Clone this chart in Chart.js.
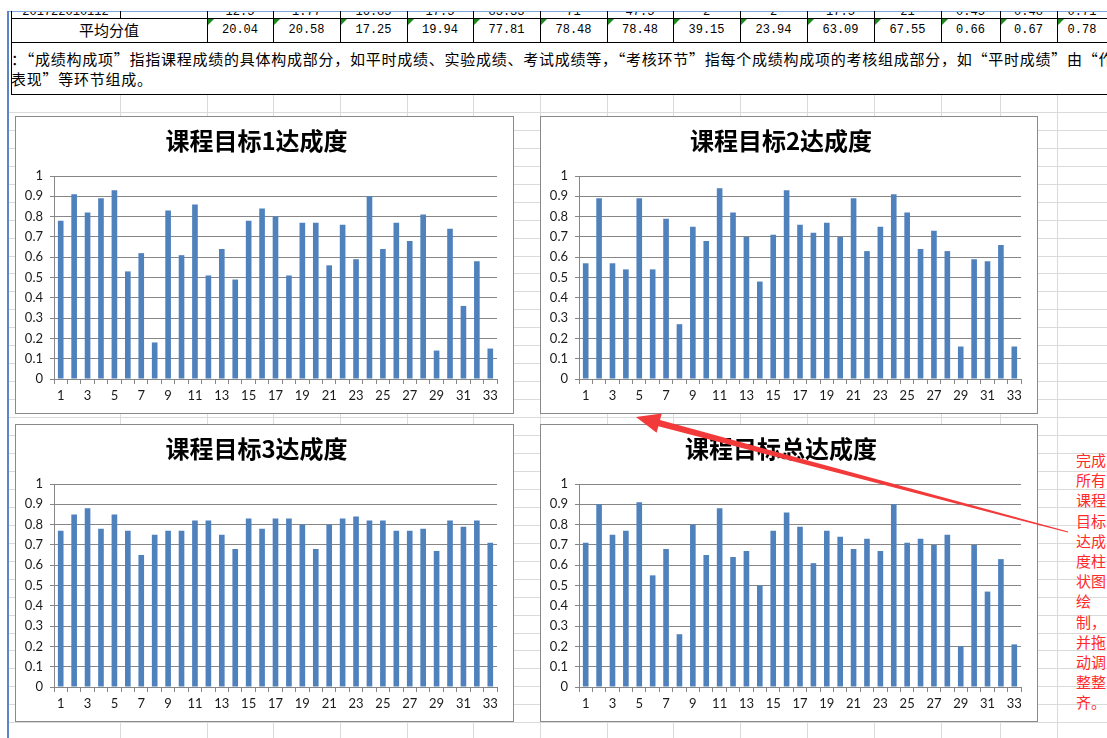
<!DOCTYPE html>
<html>
<head>
<meta charset="utf-8">
<script src="https://cdn.jsdelivr.net/npm/chart.js@4.4.1/dist/chart.umd.min.js"></script>
<style>
html, body { margin: 0; padding: 0; background: #fff; }
body { width: 1107px; height: 738px; position: relative; overflow: hidden; font-family: "Noto Sans CJK SC", sans-serif; }
.gl { position: absolute; background: #dadada; }
.bl { position: absolute; background: #000; }
.num { position: absolute; top: 21px; text-align: center; font-family: "Liberation Mono", monospace; font-size: 12px; line-height: 18px; color: #000; }
.tri { position: absolute; top: 19px; width: 0; height: 0; border-top: 6px solid #1b8a1b; border-right: 6px solid transparent; }
.box { position: absolute; background: #fff; border: 1px solid #8a8a8a; box-sizing: border-box; }
.box canvas { position: absolute; left: 0; top: 0; }
#note { position: absolute; left: 11px; top: 49px; font-size: 15px; line-height: 20px; letter-spacing: 0.75px; white-space: nowrap; color: #000; }
#red { position: absolute; left: 1076px; top: 450px; width: 31px; font-size: 15px; line-height: 20.2px; color: #ff2a2a; }
</style>
</head>
<body>

<div id="sheet"></div>

<div class="box" style="left:15px;top:116px;width:499px;height:298px;"><canvas id="c1" width="497" height="296"></canvas></div>
<div class="box" style="left:540px;top:116px;width:498px;height:298px;"><canvas id="c2" width="496" height="296"></canvas></div>
<div class="box" style="left:15px;top:424px;width:499px;height:298px;"><canvas id="c3" width="497" height="296"></canvas></div>
<div class="box" style="left:540px;top:424px;width:498px;height:298px;"><canvas id="c4" width="496" height="296"></canvas></div>

<div id="red">完成<br>所有<br>课程<br>目标<br>达成<br>度柱<br>状图<br>绘<br>制，<br>并拖<br>动调<br>整整<br>齐。</div>

<svg width="1107" height="738" style="position:absolute;left:0;top:0;pointer-events:none;">
  <polygon fill="#f23a3a" points="636,417 661.8,413.5 660,420.1 1068.2,531.4 1067.8,532.6 658.4,426.3 656.6,432.8"/>
</svg>

<script>
// -------------------------------
// DATA
// -------------------------------
const students = ["1","2","3","4","5","6","7","8","9","10","11","12","13","14","15","16","17",
    "18","19","20","21","22","23","24","25","26","27","28","29","30","31","32","33"];

const goal1 = [0.78,0.91,0.82,0.89,0.93,0.53,0.62,0.18,0.83,0.61,0.86,0.51,0.64,0.49,0.78,0.84,0.80,
    0.51,0.77,0.77,0.56,0.76,0.59,0.90,0.64,0.77,0.68,0.81,0.14,0.74,0.36,0.58,0.15];
const goal2 = [0.57,0.89,0.57,0.54,0.89,0.54,0.79,0.27,0.75,0.68,0.94,0.82,0.70,0.48,0.71,0.93,0.76,
    0.72,0.77,0.70,0.89,0.63,0.75,0.91,0.82,0.64,0.73,0.63,0.16,0.59,0.58,0.66,0.16];
const goal3 = [0.77,0.85,0.88,0.78,0.85,0.77,0.65,0.75,0.77,0.77,0.82,0.82,0.75,0.68,0.83,0.78,0.83,
    0.83,0.80,0.68,0.80,0.83,0.84,0.82,0.82,0.77,0.77,0.78,0.67,0.82,0.79,0.82,0.71];
const goalTotal = [0.71,0.90,0.75,0.77,0.91,0.55,0.68,0.26,0.80,0.65,0.88,0.64,0.67,0.50,0.77,0.86,0.79,
    0.61,0.77,0.74,0.68,0.73,0.67,0.90,0.71,0.73,0.70,0.75,0.20,0.70,0.47,0.63,0.21];

const avgLabels = ["20.04","20.58","17.25","19.94","77.81","78.48","78.48","39.15","23.94","63.09","67.55","0.66","0.67","0.78"];
const cutRow = ["12.5","1.77","16.85","17.5","83.33","71","47.5","2","2","17.5","21","0.45","0.48","0.71"];


// -------------------------------
// SPREADSHEET BACKGROUND
// -------------------------------
const sheet = document.getElementById("sheet");
const cols = [11,120,207,273,340,407,473,540,607,673,740,807,874,941,1000,1057];

function addDiv(cls, css, html) {
    const d = document.createElement("div");
    d.className = cls;
    d.style.cssText = css;
    if (html) d.innerHTML = html;
    sheet.appendChild(d);
    return d;
}

// light grid below the table
for (let y = 94 + 17.95; y < 738; y += 17.95) {
    addDiv("gl", `left:9px;top:${Math.round(y)}px;width:1098px;height:1px;`);
}
cols.slice(1).forEach(x => addDiv("gl", `left:${x}px;top:94px;width:1px;height:644px;`));

// blue frame
addDiv("", "position:absolute;left:8px;top:11px;width:1099px;height:1px;background:#7fa7df;");
addDiv("", "position:absolute;left:7px;top:11px;width:2px;height:727px;background:#5a86c8;");

// table borders
addDiv("bl", "left:11px;top:18px;width:1096px;height:1px;");
addDiv("bl", "left:11px;top:42px;width:1096px;height:1px;");
addDiv("bl", "left:11px;top:94px;width:1096px;height:1px;");
addDiv("bl", "left:11px;top:11px;width:1px;height:84px;");
cols.slice(1).forEach(x => {
    const h = x === 120 ? 7 : 31;
    addDiv("bl", `left:${x}px;top:11px;width:1px;height:${h}px;`);
});

// cut-off first row
const clip = addDiv("", "position:absolute;left:11px;top:12px;width:1096px;height:6px;overflow:hidden;");
function clipText(x, w, t) {
    const d = document.createElement("div");
    d.style.cssText = `position:absolute;left:${x - 11}px;top:-9px;width:${w}px;text-align:center;font-family:'Liberation Mono',monospace;font-size:12px;line-height:18px;`;
    d.textContent = t;
    clip.appendChild(d);
}
clipText(11, 109, "201722010112");
cutRow.forEach((t, i) => clipText(cols[i + 2], (cols[i + 3] || 1107) - cols[i + 2], t));

// 平均分值 row
addDiv("", "position:absolute;left:11px;top:20px;width:196px;text-align:center;font-size:15px;line-height:20px;", "平均分值");
avgLabels.forEach((t, i) => {
    const x = cols[i + 2];
    const w = (cols[i + 3] || 1107) - x;
    addDiv("num", `left:${x}px;width:${w}px;`, t);
    addDiv("tri", `left:${x + 1}px;`);
});

// note text
addDiv("", "", "").id = "note";
document.getElementById("note").innerHTML =
    "：“成绩构成项”指指课程成绩的具体构成部分，如平时成绩、实验成绩、考试成绩等，“考核环节”指每个成绩构成项的考核组成部分，如“平时成绩”由“作业<br>表现”等环节组成。";


// -------------------------------
// CHARTS
// -------------------------------
const barColor = "#4f81bd";
const axisColor = "#868686";
const tickFont = { family: "Lato, 'Liberation Sans', sans-serif", size: 13 };

function drawChart(id, title, values) {
    return new Chart(document.getElementById(id), {
        type: "bar",
        data: {
            labels: students,
            datasets: [{
                data: values,
                backgroundColor: barColor,
                barPercentage: 0.42,
                categoryPercentage: 1
            }]
        },
        options: {
            responsive: false,
            animation: false,
            layout: { padding: { left: 0, right: 16, top: 0, bottom: 0 } },
            plugins: {
                legend: { display: false },
                tooltip: { enabled: false },
                title: {
                    display: true,
                    text: title,
                    color: "#000",
                    font: { family: "'Noto Sans CJK SC', sans-serif", size: 24, weight: "bold", lineHeight: 28 / 24 },
                    padding: { top: 10, bottom: 21 }
                }
            },
            scales: {
                x: {
                    grid: { display: true, drawOnChartArea: false, drawTicks: true, tickLength: 5, color: axisColor, offset: true },
                    border: { color: axisColor },
                    ticks: {
                        autoSkip: false,
                        maxRotation: 0,
                        padding: 4,
                        color: "#1a1a1a",
                        font: tickFont,
                        callback: function (v, i) { return i % 2 === 0 ? this.getLabelForValue(v) : ""; }
                    },
                    afterFit: s => { s.height = 34; }
                },
                y: {
                    min: 0,
                    max: 1,
                    grid: { color: axisColor, tickLength: 4 },
                    border: { color: axisColor },
                    ticks: {
                        stepSize: 0.1,
                        padding: 7,
                        color: "#1a1a1a",
                        font: tickFont,
                        callback: v => String(Math.round(v * 10) / 10)
                    },
                    afterFit: s => { s.width = 38; }
                }
            }
        }
    });
}

drawChart("c1", "课程目标1达成度", goal1);
drawChart("c2", "课程目标2达成度", goal2);
drawChart("c3", "课程目标3达成度", goal3);
drawChart("c4", "课程目标总达成度", goalTotal);
</script>
</body>
</html>
